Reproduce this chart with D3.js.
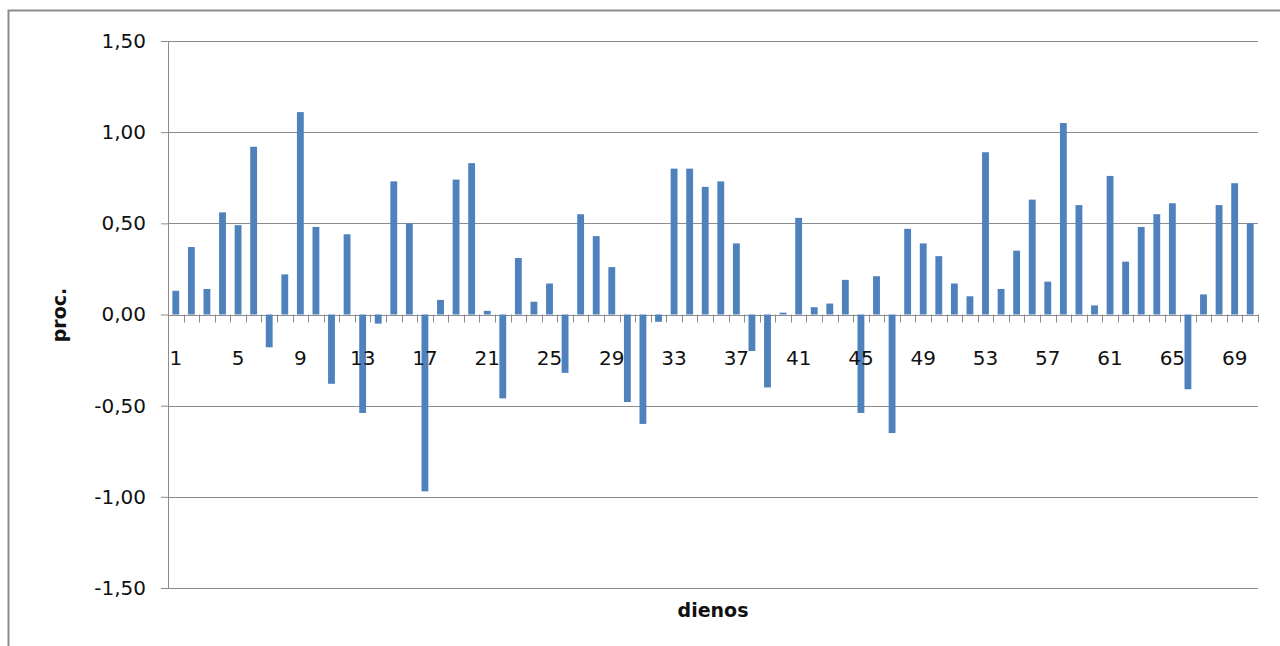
<!DOCTYPE html>
<html><head><meta charset="utf-8">
<script src="https://cdn.jsdelivr.net/npm/d3@7"></script>
<style>html,body{margin:0;padding:0;background:#fff;}svg{display:block;}</style>
</head><body>
<svg id="chart" width="1280" height="646"></svg>
<script>
const categories = d3.range(1, 71);
const values = [0.13,0.37,0.14,0.56,0.49,0.92,-0.18,0.22,1.11,0.48,
  -0.38,0.44,-0.54,-0.05,0.73,0.50,-0.97,0.08,0.74,0.83,
  0.02,-0.46,0.31,0.07,0.17,-0.32,0.55,0.43,0.26,-0.48,
  -0.60,-0.04,0.80,0.80,0.70,0.73,0.39,-0.20,-0.40,0.01,
  0.53,0.04,0.06,0.19,-0.54,0.21,-0.65,0.47,0.39,0.32,
  0.17,0.10,0.89,0.14,0.35,0.63,0.18,1.05,0.60,0.05,
  0.76,0.29,0.48,0.55,0.61,-0.41,0.11,0.60,0.72,0.50];
const yTicks = [-1.5,-1.0,-0.5,0,0.5,1.0,1.5];
const xLabelEvery = 4;
const yTitle = "proc.";
const xTitle = "dienos";

(function(){
const svg = d3.select("#chart");
const pL = 168, pR = 1258, pT = 41, pB = 588;
const x = d3.scaleBand().domain(categories).range([pL, pR]).paddingInner(0.56).paddingOuter(0.28);
const y = d3.scaleLinear().domain([-1.5, 1.5]).range([pB, pT]);
const fmt = v => d3.format(".2f")(v).replace(".", ",").replace("−","-");

svg.append("rect").attr("x", 8.5).attr("y", 10.5).attr("width", 1300).attr("height", 700)
  .attr("fill", "none").attr("stroke", "#8c8c8c").attr("stroke-width", 2);

const yAxis = d3.axisLeft(y).tickValues(yTicks).tickSize(7).tickFormat(fmt);
const gy = svg.append("g").attr("transform", `translate(${pL},0)`).call(yAxis);
gy.select(".domain").attr("stroke", "#8c8c8c");
gy.selectAll(".tick line").attr("stroke", "#8c8c8c");
gy.selectAll(".tick text").attr("font-family", "DejaVu Sans").attr("font-size", 20)
  .attr("fill", "#111").attr("x", -22);
svg.append("g").selectAll("line").data(yTicks).join("line")
  .attr("x1", pL).attr("x2", pR).attr("y1", d => Math.round(y(d)) + 0.5).attr("y2", d => Math.round(y(d)) + 0.5)
  .attr("stroke", "#8c8c8c").attr("stroke-width", 1.2);

svg.append("g").selectAll("rect").data(values).join("rect")
  .attr("x", (d, i) => x(categories[i]))
  .attr("width", x.bandwidth())
  .attr("y", d => y(Math.max(0, d)))
  .attr("height", d => Math.abs(y(d) - y(0)))
  .attr("fill", "#4F81BD");

const bounds = d3.range(0, categories.length + 1).map(i => pL + i * (pR - pL) / categories.length);
svg.append("g").selectAll("line").data(bounds).join("line")
  .attr("x1", d => Math.round(d) + 0.5).attr("x2", d => Math.round(d) + 0.5)
  .attr("y1", y(0)).attr("y2", y(0) + 8).attr("stroke", "#8c8c8c");

const xAxis = d3.axisBottom(x).tickValues(categories.filter((c, i) => i % xLabelEvery === 0)).tickSize(0);
const gx = svg.append("g").attr("transform", `translate(0,${y(0)})`).call(xAxis);
gx.select(".domain").remove();
gx.selectAll(".tick text").attr("font-family", "DejaVu Sans").attr("font-size", 20)
  .attr("fill", "#111").attr("dy", 0).attr("y", 50);

svg.append("text").attr("transform", `translate(66,315) rotate(-90)`).attr("text-anchor", "middle")
  .attr("font-family", "DejaVu Sans").attr("font-weight", "bold").attr("font-size", 19).attr("fill", "#111").text(yTitle);
svg.append("text").attr("x", 713).attr("y", 617).attr("text-anchor", "middle")
  .attr("font-family", "DejaVu Sans").attr("font-weight", "bold").attr("font-size", 19).attr("fill", "#111").text(xTitle);
})();
</script>
</body></html>
